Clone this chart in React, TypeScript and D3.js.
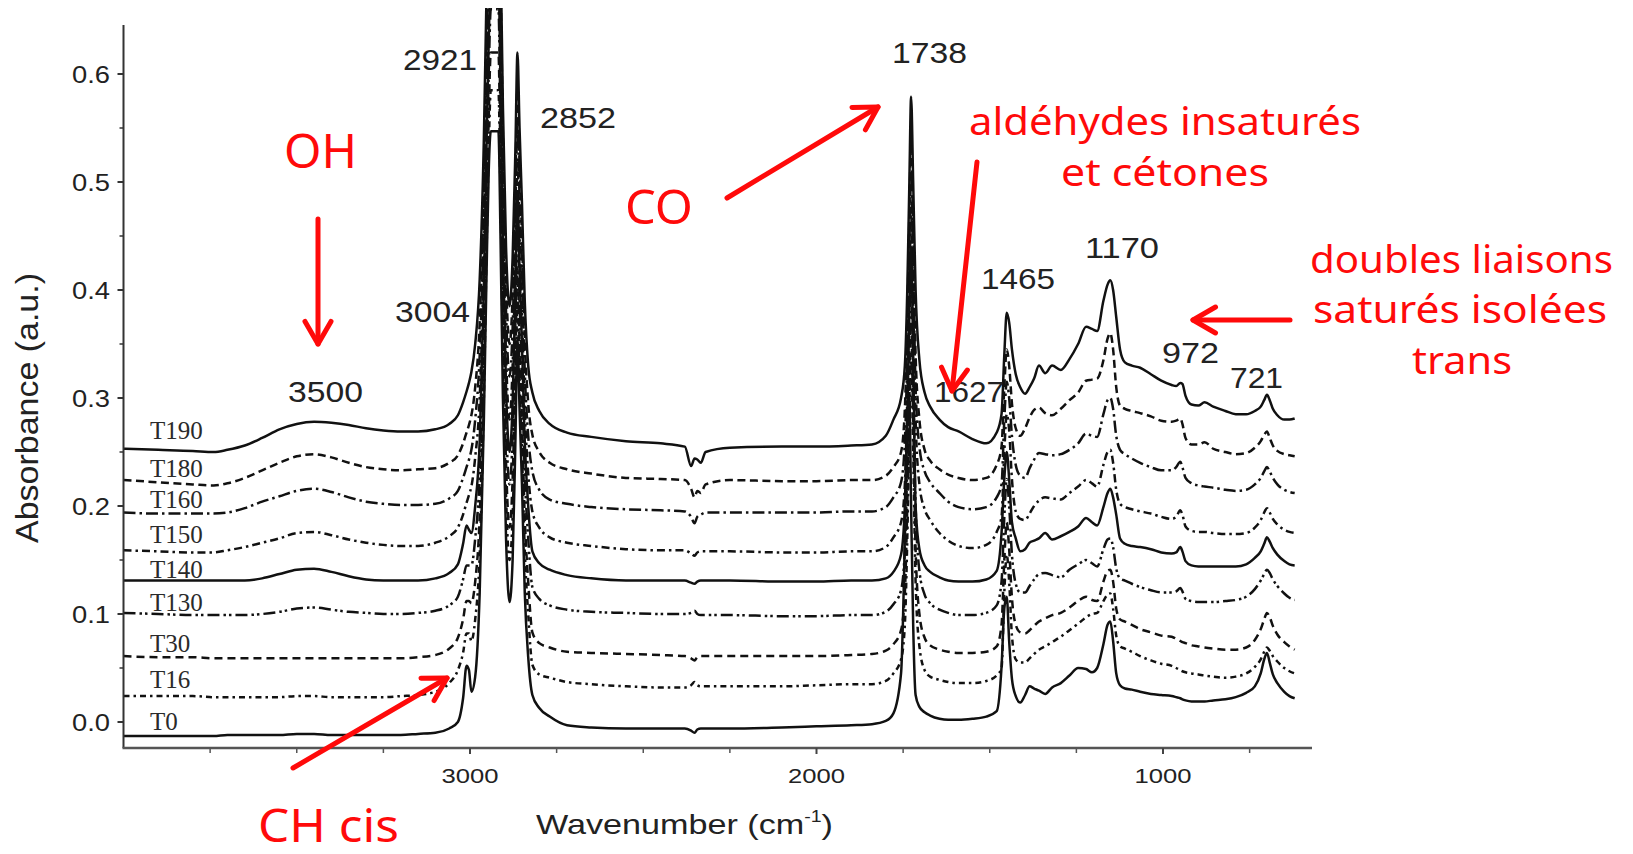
import React from 'react';
import * as d3 from 'd3';

// ---------------- DATA ----------------
// Shared wavenumber grid (cm-1), descending
const WN = [
  4000, 3900, 3800, 3740, 3700, 3650, 3600, 3550, 3500, 3450, 3400, 3350, 3300, 3250, 3200, 3150,
  3100, 3060, 3035, 3020, 3010, 3003, 2996, 2985, 2972, 2960, 2952, 2946, 2940, 2918, 2912, 2905, 2896, 2886, 2877, 2869, 2863, 2857, 2850, 2842, 2832, 2820, 2800,
  2770, 2720, 2650, 2550, 2450, 2380, 2362, 2352, 2344, 2334, 2320, 2250, 2100, 2000, 1900,
  1840, 1800, 1778, 1756, 1745, 1738, 1732, 1727, 1721, 1714, 1703, 1688, 1672, 1645, 1620, 1590, 1550, 1510, 1480,
  1466, 1458, 1451, 1444, 1436, 1425, 1412, 1398, 1385, 1372, 1358, 1340, 1320, 1295, 1270, 1245, 1222, 1205, 1190, 1172, 1160, 1152, 1144, 1135, 1124, 1110, 1090, 1066, 1035, 1005,
  975, 962, 950, 944, 935, 918, 898, 880, 855, 820, 790, 760, 735, 718, 708, 700, 692, 683, 670, 650, 635, 620,
];

const T190 = [
  0.253, 0.252, 0.251, 0.250, 0.252, 0.256, 0.263, 0.271, 0.276, 0.278, 0.277, 0.275, 0.272, 0.270, 0.269, 0.269,
  0.271, 0.276, 0.284, 0.296, 0.306, 0.314, 0.324, 0.35, 0.41, 0.54, 0.68, 0.77, 0.82, 0.82, 0.72, 0.57, 0.44, 0.385, 0.43, 0.53, 0.62, 0.55, 0.48, 0.39, 0.33, 0.305, 0.288,
  0.276, 0.268, 0.264, 0.260, 0.258, 0.255, 0.237, 0.244, 0.243, 0.240, 0.250, 0.254, 0.255, 0.255, 0.256,
  0.257, 0.265, 0.280, 0.300, 0.33, 0.40, 0.50, 0.579, 0.50, 0.40, 0.335, 0.305, 0.292, 0.280, 0.273, 0.269, 0.262, 0.258, 0.268,
  0.285, 0.34, 0.379, 0.37, 0.345, 0.322, 0.310, 0.304, 0.310, 0.318, 0.330, 0.323, 0.330, 0.326, 0.336, 0.350, 0.366, 0.364, 0.362, 0.39, 0.405, 0.409, 0.40, 0.375, 0.345, 0.333, 0.330, 0.328, 0.322, 0.316,
  0.312, 0.311, 0.314, 0.313, 0.302, 0.294, 0.293, 0.296, 0.292, 0.288, 0.285, 0.285, 0.288, 0.292, 0.298, 0.303, 0.298, 0.290, 0.284, 0.280, 0.280, 0.281,
];
const T180 = [
  0.224, 0.222, 0.220, 0.219, 0.221, 0.226, 0.233, 0.240, 0.246, 0.248, 0.245, 0.240, 0.236, 0.234, 0.233, 0.234,
  0.235, 0.240, 0.247, 0.258, 0.268, 0.275, 0.284, 0.31, 0.37, 0.50, 0.64, 0.73, 0.79, 0.79, 0.69, 0.54, 0.41, 0.35, 0.395, 0.50, 0.585, 0.515, 0.45, 0.355, 0.295, 0.266, 0.250,
  0.240, 0.234, 0.230, 0.226, 0.225, 0.224, 0.216, 0.208, 0.214, 0.212, 0.220, 0.224, 0.223, 0.223, 0.224,
  0.224, 0.228, 0.236, 0.250, 0.29, 0.37, 0.47, 0.535, 0.45, 0.34, 0.28, 0.252, 0.242, 0.234, 0.229, 0.226, 0.224, 0.226, 0.238,
  0.255, 0.31, 0.345, 0.33, 0.295, 0.272, 0.265, 0.272, 0.282, 0.289, 0.291, 0.286, 0.284, 0.290, 0.298, 0.305, 0.316, 0.317, 0.318, 0.335, 0.355, 0.360, 0.345, 0.31, 0.293, 0.290, 0.288, 0.286, 0.283, 0.279,
  0.278, 0.279, 0.281, 0.276, 0.263, 0.257, 0.257, 0.259, 0.253, 0.250, 0.248, 0.249, 0.254, 0.260, 0.266, 0.269, 0.263, 0.256, 0.251, 0.248, 0.247, 0.246,
];
const T160 = [
  0.194, 0.193, 0.193, 0.193, 0.194, 0.198, 0.204, 0.209, 0.214, 0.216, 0.213, 0.208, 0.204, 0.202, 0.201, 0.201,
  0.202, 0.207, 0.214, 0.226, 0.236, 0.243, 0.252, 0.28, 0.34, 0.47, 0.61, 0.70, 0.76, 0.76, 0.66, 0.51, 0.38, 0.32, 0.365, 0.47, 0.555, 0.485, 0.42, 0.325, 0.265, 0.232, 0.215,
  0.206, 0.202, 0.199, 0.197, 0.196, 0.195, 0.190, 0.184, 0.190, 0.192, 0.194, 0.194, 0.194, 0.194, 0.195,
  0.195, 0.199, 0.208, 0.222, 0.26, 0.34, 0.44, 0.505, 0.42, 0.31, 0.255, 0.232, 0.222, 0.212, 0.204, 0.199, 0.197, 0.199, 0.208,
  0.22, 0.28, 0.315, 0.30, 0.265, 0.238, 0.228, 0.226, 0.235, 0.243, 0.249, 0.248, 0.247, 0.248, 0.252, 0.258, 0.267, 0.265, 0.264, 0.285, 0.298, 0.300, 0.29, 0.265, 0.252, 0.248, 0.244, 0.240, 0.236, 0.233,
  0.233, 0.236, 0.241, 0.236, 0.226, 0.221, 0.219, 0.218, 0.217, 0.215, 0.214, 0.215, 0.220, 0.226, 0.232, 0.236, 0.232, 0.226, 0.220, 0.215, 0.213, 0.212,
];
const T150 = [
  0.159, 0.158, 0.157, 0.157, 0.159, 0.162, 0.166, 0.170, 0.175, 0.176, 0.173, 0.169, 0.166, 0.164, 0.163, 0.163,
  0.166, 0.172, 0.180, 0.192, 0.203, 0.21, 0.218, 0.245, 0.30, 0.43, 0.57, 0.66, 0.72, 0.72, 0.62, 0.47, 0.34, 0.28, 0.33, 0.43, 0.52, 0.45, 0.38, 0.29, 0.23, 0.195, 0.180,
  0.171, 0.166, 0.163, 0.160, 0.159, 0.159, 0.156, 0.154, 0.157, 0.158, 0.158, 0.158, 0.157, 0.157, 0.158,
  0.158, 0.162, 0.171, 0.185, 0.22, 0.30, 0.40, 0.47, 0.39, 0.28, 0.22, 0.197, 0.187, 0.175, 0.168, 0.163, 0.161, 0.164, 0.176,
  0.19, 0.25, 0.285, 0.27, 0.225, 0.195, 0.188, 0.187, 0.193, 0.200, 0.205, 0.208, 0.207, 0.206, 0.212, 0.218, 0.224, 0.221, 0.218, 0.238, 0.250, 0.252, 0.24, 0.215, 0.202, 0.199, 0.197, 0.195, 0.193, 0.190,
  0.188, 0.190, 0.196, 0.192, 0.181, 0.177, 0.176, 0.176, 0.175, 0.174, 0.174, 0.175, 0.180, 0.187, 0.194, 0.198, 0.194, 0.188, 0.183, 0.178, 0.176, 0.175,
];
const T140 = [
  0.131, 0.131, 0.131, 0.131, 0.131, 0.131, 0.133, 0.137, 0.141, 0.142, 0.139, 0.135, 0.132, 0.131, 0.131, 0.131,
  0.133, 0.138, 0.146, 0.165, 0.182, 0.178, 0.175, 0.20, 0.26, 0.40, 0.54, 0.63, 0.69, 0.69, 0.59, 0.44, 0.31, 0.25, 0.295, 0.40, 0.49, 0.42, 0.35, 0.26, 0.20, 0.158, 0.147,
  0.141, 0.136, 0.133, 0.131, 0.131, 0.131, 0.129, 0.128, 0.130, 0.131, 0.131, 0.131, 0.130, 0.130, 0.131,
  0.131, 0.133, 0.139, 0.155, 0.20, 0.28, 0.38, 0.44, 0.34, 0.20, 0.16, 0.145, 0.139, 0.134, 0.131, 0.130, 0.130, 0.132, 0.140,
  0.175, 0.225, 0.25, 0.225, 0.185, 0.170, 0.158, 0.160, 0.166, 0.168, 0.170, 0.175, 0.169, 0.172, 0.176, 0.181, 0.189, 0.185, 0.182, 0.199, 0.212, 0.216, 0.208, 0.192, 0.170, 0.165, 0.163, 0.162, 0.160, 0.157,
  0.156, 0.157, 0.162, 0.158, 0.149, 0.145, 0.144, 0.144, 0.144, 0.144, 0.144, 0.146, 0.152, 0.158, 0.165, 0.171, 0.167, 0.161, 0.155, 0.149, 0.146, 0.145,
];
const T130 = [
  0.101, 0.100, 0.099, 0.099, 0.099, 0.099, 0.100, 0.102, 0.105, 0.106, 0.104, 0.102, 0.101, 0.100, 0.100, 0.101,
  0.103, 0.108, 0.116, 0.132, 0.145, 0.145, 0.145, 0.17, 0.23, 0.37, 0.51, 0.60, 0.66, 0.66, 0.56, 0.41, 0.28, 0.22, 0.265, 0.37, 0.46, 0.39, 0.32, 0.23, 0.17, 0.125, 0.114,
  0.108, 0.104, 0.102, 0.101, 0.100, 0.100, 0.101, 0.103, 0.100, 0.099, 0.099, 0.099, 0.098, 0.098, 0.099,
  0.099, 0.102, 0.109, 0.122, 0.16, 0.24, 0.34, 0.41, 0.32, 0.20, 0.14, 0.118, 0.110, 0.104, 0.101, 0.099, 0.099, 0.101, 0.108,
  0.13, 0.19, 0.225, 0.20, 0.155, 0.128, 0.120, 0.120, 0.126, 0.132, 0.137, 0.138, 0.136, 0.134, 0.141, 0.146, 0.150, 0.147, 0.144, 0.160, 0.169, 0.170, 0.162, 0.142, 0.133, 0.131, 0.128, 0.125, 0.122, 0.120,
  0.120, 0.121, 0.124, 0.121, 0.114, 0.112, 0.111, 0.111, 0.111, 0.112, 0.113, 0.116, 0.123, 0.131, 0.137, 0.141, 0.138, 0.132, 0.126, 0.119, 0.115, 0.113,
];
const T30 = [
  0.061, 0.060, 0.060, 0.059, 0.059, 0.059, 0.059, 0.059, 0.059, 0.059, 0.059, 0.059, 0.059, 0.059, 0.059, 0.060,
  0.062, 0.068, 0.078, 0.095, 0.112, 0.112, 0.11, 0.13, 0.19, 0.33, 0.47, 0.56, 0.62, 0.62, 0.52, 0.37, 0.24, 0.18, 0.225, 0.33, 0.42, 0.35, 0.28, 0.19, 0.13, 0.083, 0.073,
  0.069, 0.065, 0.064, 0.063, 0.062, 0.061, 0.059, 0.057, 0.060, 0.061, 0.061, 0.061, 0.061, 0.061, 0.062,
  0.063, 0.066, 0.072, 0.085, 0.12, 0.20, 0.30, 0.37, 0.28, 0.16, 0.10, 0.078, 0.071, 0.067, 0.065, 0.064, 0.064, 0.065, 0.070,
  0.09, 0.15, 0.185, 0.16, 0.115, 0.090, 0.083, 0.082, 0.085, 0.089, 0.093, 0.096, 0.099, 0.101, 0.106, 0.112, 0.116, 0.113, 0.112, 0.130, 0.140, 0.141, 0.130, 0.105, 0.095, 0.093, 0.090, 0.086, 0.083, 0.080,
  0.079, 0.077, 0.075, 0.074, 0.073, 0.071, 0.070, 0.069, 0.068, 0.067, 0.067, 0.069, 0.076, 0.086, 0.095, 0.101, 0.097, 0.089, 0.081, 0.074, 0.070, 0.067,
];
const T16 = [
  0.024, 0.024, 0.024, 0.023, 0.023, 0.023, 0.023, 0.023, 0.024, 0.024, 0.023, 0.023, 0.023, 0.023, 0.024, 0.025,
  0.028, 0.036, 0.048, 0.064, 0.082, 0.082, 0.075, 0.095, 0.155, 0.30, 0.44, 0.53, 0.585, 0.585, 0.49, 0.34, 0.21, 0.15, 0.19, 0.30, 0.39, 0.32, 0.25, 0.16, 0.10, 0.053, 0.044,
  0.041, 0.037, 0.035, 0.033, 0.032, 0.032, 0.034, 0.037, 0.034, 0.033, 0.033, 0.033, 0.033, 0.034, 0.035,
  0.035, 0.038, 0.045, 0.058, 0.09, 0.17, 0.27, 0.335, 0.25, 0.13, 0.07, 0.048, 0.042, 0.039, 0.037, 0.036, 0.036, 0.038, 0.043,
  0.05, 0.12, 0.155, 0.13, 0.08, 0.058, 0.055, 0.055, 0.059, 0.063, 0.067, 0.070, 0.074, 0.079, 0.085, 0.091, 0.097, 0.100, 0.101, 0.112, 0.118, 0.119, 0.105, 0.080, 0.070, 0.068, 0.065, 0.061, 0.057, 0.054,
  0.052, 0.050, 0.048, 0.047, 0.046, 0.045, 0.044, 0.043, 0.042, 0.041, 0.042, 0.045, 0.051, 0.058, 0.065, 0.069, 0.066, 0.061, 0.056, 0.050, 0.047, 0.045,
];
const T0 = [
  -0.013, -0.013, -0.013, -0.013, -0.012, -0.012, -0.012, -0.012, -0.011, -0.011, -0.012, -0.012, -0.012, -0.012, -0.012, -0.011,
  -0.010, -0.006, 0.000, 0.022, 0.052, 0.048, 0.028, 0.042, 0.12, 0.28, 0.42, 0.51, 0.547, 0.547, 0.45, 0.30, 0.17, 0.111, 0.15, 0.26, 0.355, 0.29, 0.22, 0.12, 0.06, 0.025, 0.013,
  0.005, -0.003, -0.005, -0.006, -0.006, -0.006, -0.008, -0.010, -0.007, -0.006, -0.006, -0.006, -0.005, -0.004, -0.003,
  -0.002, 0.001, 0.008, 0.045, 0.17, 0.28, 0.30, 0.20, 0.09, 0.025, 0.014, 0.009, 0.006, 0.003, 0.002, 0.002, 0.003, 0.005, 0.010,
  0.051, 0.105, 0.116, 0.075, 0.040, 0.024, 0.018, 0.025, 0.033, 0.031, 0.029, 0.026, 0.032, 0.036, 0.043, 0.050, 0.049, 0.046, 0.050, 0.072, 0.090, 0.093, 0.075, 0.045, 0.034, 0.031, 0.030, 0.028, 0.026, 0.025,
  0.024, 0.023, 0.022, 0.021, 0.020, 0.019, 0.019, 0.019, 0.020, 0.021, 0.023, 0.027, 0.033, 0.045, 0.058, 0.064, 0.055, 0.044, 0.036, 0.028, 0.024, 0.022,
];

const SERIES_NAMES = ['T190', 'T180', 'T160', 'T150', 'T140', 'T130', 'T30', 'T16', 'T0'];
const SERIES_VALUES = [T190, T180, T160, T150, T140, T130, T30, T16, T0];

const Y_TICKS = [0.0, 0.1, 0.2, 0.3, 0.4, 0.5, 0.6];
const Y_TICK_LABELS = ['0.0', '0.1', '0.2', '0.3', '0.4', '0.5', '0.6'];
const X_TICKS = [3000, 2000, 1000];
const X_TICK_LABELS = ['3000', '2000', '1000'];
const X_MINOR = [3750, 3500, 3250, 2750, 2500, 2250, 1750, 1500, 1250, 750];
const Y_MINOR = [0.05, 0.15, 0.25, 0.35, 0.45, 0.55];

const PEAK_LABELS = ['3500', '3004', '2921', '2852', '1738', '1627', '1465', '1170', '972', '721'];

// ---------------- LAYOUT / STYLE ----------------
const W = 1633;
const H = 854;
const AXIS_X0 = 123.5;
const AXIS_Y = 748;
const x = d3.scaleLinear().domain([4000, 570]).range([AXIS_X0, 1312]);
const y = d3.scaleLinear().domain([0, 0.6]).range([722, 74]);
const Y_TOP = 25;

const DASHES: Record<string, string | undefined> = {
  T190: undefined,
  T180: '8 4.5',
  T160: '12 4 2.5 4',
  T150: '8 4 2.5 4',
  T140: undefined,
  T130: '12 4 2.5 3 2.5 4',
  T30: '8 5',
  T16: '6 4 2.5 4',
  T0: undefined,
};
const LABEL_POS: Record<string, [number, number]> = {
  T190: [150, 439], T180: [150, 477], T160: [150, 508], T150: [150, 543], T140: [150, 578],
  T130: [150, 611], T30: [150, 652], T16: [150, 688], T0: [150, 730],
};
const PEAK_POS: Record<string, [number, number, number]> = {
  '3500': [288, 402, 75], '3004': [395, 322, 75], '2921': [403, 70, 74], '2852': [540, 128, 76],
  '1738': [892, 63, 75], '1627': [934, 402, 70], '1465': [981, 289, 74], '1170': [1085, 258, 74],
  '972': [1162, 363, 57], '721': [1230, 388, 53],
};

const RED = '#ff0a0a';
const SANS = 'Liberation Sans, Arial, sans-serif';
const SERIF = 'Liberation Serif, Times New Roman, serif';
const HAND = 'Noto Sans, Open Sans, sans-serif';

function Arrow({ x1, y1, x2, y2 }: { x1: number; y1: number; x2: number; y2: number }) {
  const ang = Math.atan2(y2 - y1, x2 - x1);
  const L = 26;
  const a = (30 * Math.PI) / 180;
  const p1 = [x2 - L * Math.cos(ang - a), y2 - L * Math.sin(ang - a)];
  const p2 = [x2 - L * Math.cos(ang + a), y2 - L * Math.sin(ang + a)];
  return (
    <g stroke={RED} strokeWidth={5} strokeLinecap="round" fill="none">
      <line x1={x1} y1={y1} x2={x2} y2={y2} />
      <polyline points={`${p1[0]},${p1[1]} ${x2},${y2} ${p2[0]},${p2[1]}`} strokeLinejoin="round" />
    </g>
  );
}

function RedText({ x: tx, y: ty, len, size, children }: any) {
  return (
    <text x={tx} y={ty} fontFamily={HAND} fontSize={size} fill={RED} textLength={len} lengthAdjust="spacingAndGlyphs">
      {children}
    </text>
  );
}

export default function App() {
  const line = d3
    .line<[number, number]>()
    .x((d) => x(d[0]))
    .y((d) => y(d[1]))
    .curve(d3.curveMonotoneX);

  const mismatch = SERIES_VALUES.map((v, i) => (v.length !== WN.length ? `${SERIES_NAMES[i]}:${v.length}` : '')).filter(Boolean);

  return (
    <svg width={W} height={H} style={{ position: 'fixed', left: 0, top: 0, background: '#fff' }}>
      <defs>
        <clipPath id="plotclip">
          <rect x={AXIS_X0} y={8} width={1312 - AXIS_X0} height={AXIS_Y - 8} />
        </clipPath>
      </defs>
      <rect x={0} y={0} width={W} height={H} fill="#fff" />

      {/* spectra */}
      <g clipPath="url(#plotclip)">
        {SERIES_NAMES.map((name, i) => {
          const pts = WN.map((w, j) => [w, SERIES_VALUES[i][j]] as [number, number]);
          return (
            <path
              key={name}
              d={line(pts) || ''}
              fill="none"
              stroke="#111"
              strokeWidth={2.5}
              strokeDasharray={DASHES[name]}
              strokeLinejoin="round"
            />
          );
        })}
      </g>

      {/* series labels */}
      {SERIES_NAMES.map((name) => (
        <text key={name} x={LABEL_POS[name][0]} y={LABEL_POS[name][1]} fontFamily={SERIF} fontSize={25} fill="#2a2a2a">
          {name}
        </text>
      ))}

      {/* axes */}
      <line x1={AXIS_X0} y1={Y_TOP} x2={AXIS_X0} y2={AXIS_Y} stroke="#333" strokeWidth={2} />
      <line x1={AXIS_X0 - 1} y1={AXIS_Y} x2={1312} y2={AXIS_Y} stroke="#555" strokeWidth={2.5} />
      {Y_TICKS.map((v, i) => (
        <g key={'yt' + i}>
          <line x1={AXIS_X0 - 6} y1={y(v)} x2={AXIS_X0} y2={y(v)} stroke="#333" strokeWidth={2} />
          <text x={110} y={y(v) + 8.5} textAnchor="end" fontFamily={SANS} fontSize={23} fill="#222" textLength={38} lengthAdjust="spacingAndGlyphs">
            {Y_TICK_LABELS[i]}
          </text>
        </g>
      ))}
      {Y_MINOR.map((v, i) => (
        <line key={'ym' + i} x1={AXIS_X0 - 4} y1={y(v)} x2={AXIS_X0} y2={y(v)} stroke="#333" strokeWidth={1.5} />
      ))}
      {X_TICKS.map((v, i) => (
        <g key={'xt' + i}>
          <line x1={x(v)} y1={AXIS_Y} x2={x(v)} y2={AXIS_Y + 6} stroke="#444" strokeWidth={2} />
          <text x={x(v)} y={783} textAnchor="middle" fontFamily={SANS} fontSize={21} fill="#222" textLength={57} lengthAdjust="spacingAndGlyphs">
            {X_TICK_LABELS[i]}
          </text>
        </g>
      ))}
      {X_MINOR.map((v, i) => (
        <line key={'xm' + i} x1={x(v)} y1={AXIS_Y} x2={x(v)} y2={AXIS_Y + 5} stroke="#555" strokeWidth={1.5} />
      ))}

      {/* axis titles */}
      <text x={536} y={834} fontFamily={SANS} fontSize={28} fill="#222" textLength={297} lengthAdjust="spacingAndGlyphs">
        Wavenumber (cm
        <tspan fontSize={16} dy={-12}>-1</tspan>
        <tspan dy={12}>)</tspan>
      </text>
      <text
        transform="translate(38,408) rotate(-90)"
        textAnchor="middle"
        fontFamily={SANS}
        fontSize={32}
        fill="#222"
        textLength={270}
        lengthAdjust="spacingAndGlyphs"
      >
        Absorbance (a.u.)
      </text>

      {/* peak labels */}
      {PEAK_LABELS.map((p) => (
        <text key={p} x={PEAK_POS[p][0]} y={PEAK_POS[p][1]} fontFamily={SANS} fontSize={29} fill="#222" textLength={PEAK_POS[p][2]} lengthAdjust="spacingAndGlyphs">
          {p}
        </text>
      ))}

      {/* red annotations */}
      <RedText x={284} y={168} len={73} size={48}>OH</RedText>
      <Arrow x1={318} y1={219} x2={318} y2={344} />
      <RedText x={625} y={224} len={68} size={48}>CO</RedText>
      <Arrow x1={727} y1={198} x2={878} y2={107} />
      <RedText x={258} y={842} len={141} size={46}>CH cis</RedText>
      <Arrow x1={293} y1={768} x2={447} y2={678} />
      <RedText x={969} y={135} len={392} size={39}>aldéhydes insaturés</RedText>
      <RedText x={1061} y={186} len={208} size={39}>et cétones</RedText>
      <Arrow x1={977} y1={162} x2={952} y2={391} />
      <RedText x={1310} y={273} len={303} size={38}>doubles liaisons</RedText>
      <RedText x={1313} y={323} len={294} size={38}>saturés isolées</RedText>
      <RedText x={1412} y={374} len={100} size={38}>trans</RedText>
      <Arrow x1={1290} y1={320} x2={1193} y2={320} />

      {mismatch.length > 0 && (
        <text x={600} y={20} fill="blue" fontSize={16}>
          MISMATCH {WN.length} {mismatch.join(' ')}
        </text>
      )}
    </svg>
  );
}
